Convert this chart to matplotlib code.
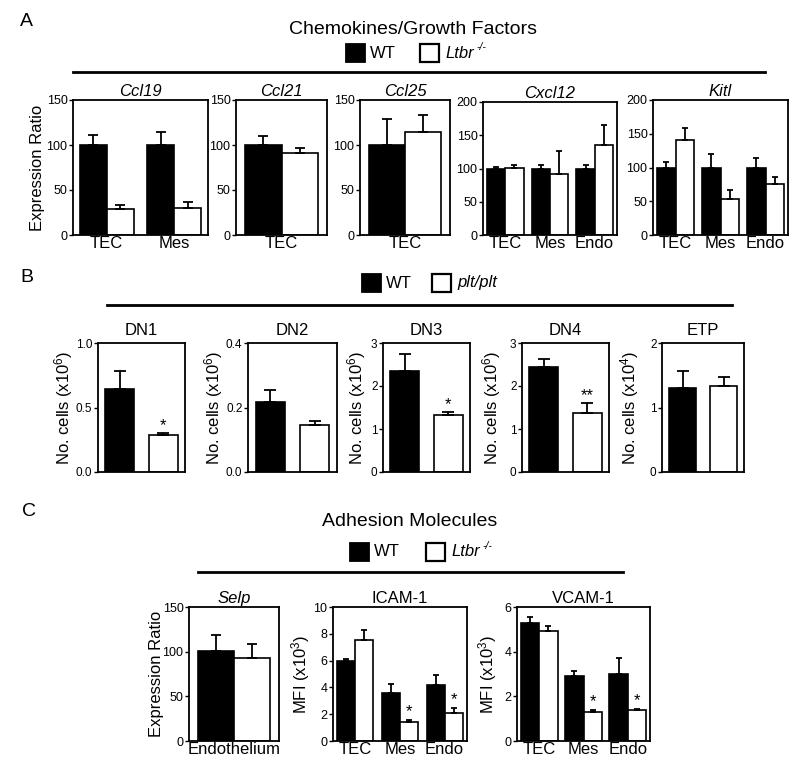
import numpy as np
import matplotlib
matplotlib.use('Agg')
import matplotlib.pyplot as plt
from matplotlib.patches import Rectangle

plt.rcParams['font.family'] = ['Liberation Sans', 'DejaVu Sans']
plt.rcParams['mathtext.fontset'] = 'custom'
plt.rcParams['mathtext.rm'] = 'Liberation Sans'
plt.rcParams['mathtext.it'] = 'Liberation Sans:italic'

W, H = 800, 769

# ---- panel A: chemokines / growth factors (expression ratio) ----
ccl19_groups = ['TEC', 'Mes']
ccl19_wt = [100, 100]
ccl19_wt_err = [11, 15]
ccl19_ko = [29, 30]
ccl19_ko_err = [4, 7]

ccl21_groups = ['TEC']
ccl21_wt = [100]
ccl21_wt_err = [10]
ccl21_ko = [91]
ccl21_ko_err = [6]

ccl25_groups = ['TEC']
ccl25_wt = [100]
ccl25_wt_err = [29]
ccl25_ko = [114]
ccl25_ko_err = [19]

cxcl12_groups = ['TEC', 'Mes', 'Endo']
cxcl12_wt = [100, 100, 100]
cxcl12_wt_err = [3, 5, 6]
cxcl12_ko = [101, 91, 136]
cxcl12_ko_err = [5, 36, 29]

kitl_groups = ['TEC', 'Mes', 'Endo']
kitl_wt = [100, 100, 100]
kitl_wt_err = [8, 20, 14]
kitl_ko = [141, 53, 76]
kitl_ko_err = [18, 13, 10]

# ---- panel B: DN subsets, WT vs plt/plt ----
dn_names = ['DN1', 'DN2', 'DN3', 'DN4', 'ETP']
dn_wt = [0.64, 0.217, 2.36, 2.45, 1.31]
dn_wt_err = [0.145, 0.037, 0.38, 0.18, 0.25]
dn_ko = [0.287, 0.146, 1.33, 1.38, 1.335]
dn_ko_err = [0.018, 0.013, 0.07, 0.23, 0.135]
dn_stars = ['*', '', '*', '**', '']
dn_ymax = [1.0, 0.4, 3, 3, 2]
dn_yticks = [[0.0, 0.5, 1.0], [0.0, 0.2, 0.4], [0, 1, 2, 3], [0, 1, 2, 3], [0, 1, 2]]
dn_ylabels = ['No. cells (x10$^6$)'] * 4 + ['No. cells (x10$^4$)']

# ---- panel C: adhesion molecules ----
selp_groups = ['Endothelium']
selp_wt = [100.7]
selp_wt_err = [17.5]
selp_ko = [92.5]
selp_ko_err = [16]

icam_groups = ['TEC', 'Mes', 'Endo']
icam_wt = [5.95, 3.6, 4.15]
icam_wt_err = [0.2, 0.62, 0.77]
icam_ko = [7.55, 1.4, 2.1]
icam_ko_err = [0.75, 0.15, 0.4]
icam_stars = ['', '*', '*']

vcam_groups = ['TEC', 'Mes', 'Endo']
vcam_wt = [5.27, 2.92, 3.0]
vcam_wt_err = [0.29, 0.21, 0.7]
vcam_ko = [4.92, 1.3, 1.39]
vcam_ko_err = [0.24, 0.08, 0.05]
vcam_stars = ['', '*', '*']

fig = plt.figure(figsize=(W / 100, H / 100), dpi=100)

# overlay in pixel coords for headers, legends and rules
ov = fig.add_axes([0, 0, 1, 1])
ov.set_xlim(0, W)
ov.set_ylim(H, 0)
ov.axis('off')


def box(l, t, r, b, tick_size=9):
    ax = fig.add_axes([l / W, 1 - b / H, (r - l) / W, (b - t) / H])
    for s in ax.spines.values():
        s.set_linewidth(1.3)
    ax.tick_params(axis='y', direction='out', length=3, width=1, pad=1, labelsize=tick_size)
    ax.tick_params(axis='x', length=0, pad=1, labelsize=12)
    return ax


def ylab(ax, text, right_px, l, r):
    # place the y label so its right edge sits at a given pixel column
    ax.set_ylabel(text, fontsize=12)
    ax.yaxis.set_label_coords((right_px - l) / (r - l), 0.5)


def grouped(ax, groups, wt, wt_err, ko, ko_err, width, ymax, yticks, xlim=None,
            stars=None, cap=3.5, star_gap=0.0):
    x = np.arange(len(groups))
    ekw = dict(ecolor='black', elinewidth=1.3, capthick=1.3)
    ax.bar(x - width / 2, wt, width, color='black', edgecolor='black', linewidth=1.2,
           yerr=[np.zeros(len(wt)), wt_err], capsize=cap, error_kw=ekw)
    ax.bar(x + width / 2, ko, width, color='white', edgecolor='black', linewidth=1.2,
           yerr=[np.zeros(len(ko)), ko_err], capsize=cap, error_kw=ekw)
    if stars:
        for xi, v, e, s in zip(x, ko, ko_err, stars):
            if s:
                ax.text(xi + width / 2, v + e + star_gap, s, ha='center', va='bottom', fontsize=12)
    ax.set_xlim(xlim if xlim else (-0.5, len(groups) - 0.5))
    ax.set_ylim(0, ymax)
    ax.set_yticks(yticks)
    ax.set_xticks(x, groups)


def legend(x, y, label, sup=None, wt_x=None):
    ov.add_patch(Rectangle((wt_x, y - 9), 19, 18, facecolor='black', edgecolor='black', lw=1.3))
    ov.text(wt_x + 24, y, 'WT', fontsize=12, va='center', ha='left')
    ov.add_patch(Rectangle((x, y - 9), 19, 18, facecolor='white', edgecolor='black', lw=1.6))
    ov.text(x + 25, y, label, fontsize=12, va='center', ha='left', style='italic')
    if sup:
        ov.text(x + 56, y - 6, sup, fontsize=7.5, va='center', ha='left', style='italic')


# ---------- A ----------
ov.text(20, 22, 'A', fontsize=14, va='center')
ov.text(413, 30, 'Chemokines/Growth Factors', fontsize=14, ha='center', va='center')
legend(420, 53, 'Ltbr', sup='-/-', wt_x=346)
ov.plot([73, 765], [72, 72], color='black', lw=2)

ax = box(73, 100, 208, 235)
grouped(ax, ccl19_groups, ccl19_wt, ccl19_wt_err, ccl19_ko, ccl19_ko_err, 0.4, 150, [0, 50, 100, 150])
ax.set_title('Ccl19', style='italic', fontsize=12, pad=3)
ylab(ax, 'Expression Ratio', 45, 73, 208)

ax = box(236, 100, 327, 235)
grouped(ax, ccl21_groups, ccl21_wt, ccl21_wt_err, ccl21_ko, ccl21_ko_err, 0.4, 150, [0, 50, 100, 150])
ax.set_title('Ccl21', style='italic', fontsize=12, pad=3)

ax = box(360, 100, 450, 235)
grouped(ax, ccl25_groups, ccl25_wt, ccl25_wt_err, ccl25_ko, ccl25_ko_err, 0.4, 150, [0, 50, 100, 150])
ax.set_title('Ccl25', style='italic', fontsize=12, pad=3)

ax = box(483, 102, 617, 235)
grouped(ax, cxcl12_groups, cxcl12_wt, cxcl12_wt_err, cxcl12_ko, cxcl12_ko_err, 0.41, 200,
        [0, 50, 100, 150, 200], cap=2.5)
ax.set_title('Cxcl12', style='italic', fontsize=12, pad=3)

ax = box(653, 100, 788, 235)
grouped(ax, kitl_groups, kitl_wt, kitl_wt_err, kitl_ko, kitl_ko_err, 0.42, 200,
        [0, 50, 100, 150, 200], cap=2.5)
ax.set_title('Kitl', style='italic', fontsize=12, pad=3)

# ---------- B ----------
ov.text(20, 278, 'B', fontsize=14, va='center')
legend(432, 283, 'plt/plt', wt_x=362)
ov.plot([107, 732], [305, 305], color='black', lw=2)

dn_boxes = [(98, 185), (248, 337), (383, 470), (522, 609), (662, 744)]
dn_label_px = [75, 225, 368, 503, 641]
for i, (l, r) in enumerate(dn_boxes):
    ax = box(l, 343, r, 472, tick_size=8.5)
    ekw = dict(ecolor='black', elinewidth=1.3, capthick=1.3)
    ax.bar([0], [dn_wt[i]], 0.66, color='black', edgecolor='black', linewidth=1.2,
           yerr=[[0], [dn_wt_err[i]]], capsize=4.5, error_kw=ekw)
    ax.bar([1], [dn_ko[i]], 0.66, color='white', edgecolor='black', linewidth=1.2,
           yerr=[[0], [dn_ko_err[i]]], capsize=4.5, error_kw=ekw)
    if dn_stars[i]:
        ax.text(1, dn_ko[i] + dn_ko_err[i], dn_stars[i], ha='center', va='bottom', fontsize=12)
    ax.set_xlim(-0.5, 1.5)
    ax.set_ylim(0, dn_ymax[i])
    ax.set_yticks(dn_yticks[i])
    ax.set_xticks([])
    ax.set_title(dn_names[i], fontsize=12, pad=6)
    ylab(ax, dn_ylabels[i], dn_label_px[i], l, r)

# ---------- C ----------
ov.text(22, 512, 'C', fontsize=14, va='center')
ov.text(410, 522, 'Adhesion Molecules', fontsize=14, ha='center', va='center')
legend(426, 552, 'Ltbr', sup='-/-', wt_x=350)
ov.plot([198, 623], [572, 572], color='black', lw=2)

ax = box(189, 607, 279, 741)
grouped(ax, selp_groups, selp_wt, selp_wt_err, selp_ko, selp_ko_err, 0.4, 150, [0, 50, 100, 150])
ax.set_title('Selp', style='italic', fontsize=12, pad=3)
ylab(ax, 'Expression Ratio', 164, 189, 279)

ax = box(333, 607, 467, 741)
grouped(ax, icam_groups, icam_wt, icam_wt_err, icam_ko, icam_ko_err, 0.4, 10,
        [0, 2, 4, 6, 8, 10], stars=icam_stars, cap=2.5, star_gap=0.05)
ax.set_title('ICAM-1', fontsize=12, pad=3)
ylab(ax, 'MFI (x10$^3$)', 312, 333, 467)

ax = box(517, 607, 650, 741)
grouped(ax, vcam_groups, vcam_wt, vcam_wt_err, vcam_ko, vcam_ko_err, 0.42, 6,
        [0, 2, 4, 6], stars=vcam_stars, cap=2.5, star_gap=0.03)
ax.set_title('VCAM-1', fontsize=12, pad=3)
ylab(ax, 'MFI (x10$^3$)', 499, 517, 650)

fig.savefig('out.png', dpi=100)
